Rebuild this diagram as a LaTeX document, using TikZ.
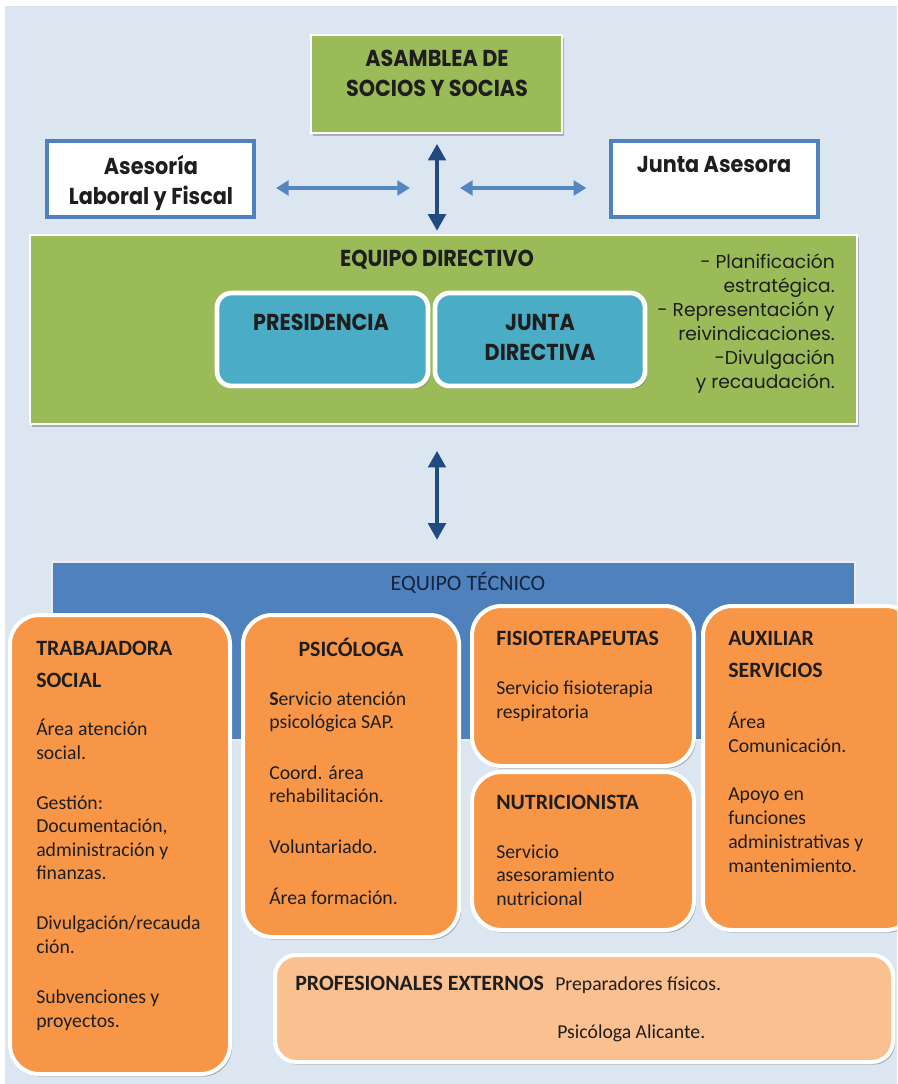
\documentclass[tikz,border=0pt]{standalone}
\usepackage{fontspec}
\setmainfont{Carlito}
\newfontfamily\gothic[FakeStretch=0.9]{Poppins}
\newfontfamily\gothicr{Poppins}
\usetikzlibrary{arrows.meta,shadows,fit}
\definecolor{bgc}{RGB}{220,230,241}
\definecolor{grn}{RGB}{155,187,89}
\definecolor{blu}{RGB}{79,129,189}
\definecolor{tealc}{RGB}{75,172,198}
\definecolor{orng}{RGB}{247,150,70}
\definecolor{lorng}{RGB}{250,192,144}
\definecolor{harc}{RGB}{84,134,194}
\definecolor{varc}{RGB}{35,74,128}
\definecolor{txtc}{RGB}{30,30,30}
\definecolor{navy}{RGB}{22,36,62}
\begin{document}
\begin{tikzpicture}[x=0.75pt,y=-0.75pt,
  shad/.style={drop shadow={shadow xshift=1.5pt,shadow yshift=-2pt,opacity=0.35,fill=black!70}},
  greenbox/.style={shad,inner sep=0pt,fill=grn,draw=white,line width=2.2pt},
  whitebox/.style={inner sep=0pt,fill=white,draw=blu,line width=3pt},
  tealbox/.style={shad,inner sep=0pt,fill=tealc,draw=white,line width=3.5pt,rounded corners=11pt},
  orbox/.style={shad,inner sep=0pt,fill=orng,draw=white,line width=3pt,rounded corners=22pt},
  lorbox/.style={shad,inner sep=0pt,fill=lorng,draw=white,line width=3pt,rounded corners=16pt},
  techbox/.style={inner sep=0pt,fill=blu,draw=white!85!gray,line width=1.2pt},
  hdr/.style={inner sep=0pt,text=txtc,align=center,font=\gothic\bfseries\fontsize{17.3}{22.5}\selectfont},
  lst/.style={inner sep=0pt,text=txtc,align=right,font=\gothicr\fontsize{14}{18}\selectfont},
  ttl/.style={inner sep=0pt,text=txtc,align=left,font=\bfseries\fontsize{16.4}{23.5}\selectfont},
  bdy/.style={inner sep=0pt,text=txtc,align=left,font=\fontsize{14.8}{17.6}\selectfont},
  harrow/.style={harc,line width=3pt,{Triangle[width=11pt,length=9.5pt]}-{Triangle[width=11pt,length=9.5pt]}},
  varrow/.style={varc,line width=3.6pt,{Triangle[width=13pt,length=12.5pt]}-{Triangle[width=13pt,length=12.5pt]}}
]
\useasboundingbox (0,0) rectangle (897,1084);
\clip (0,0) rectangle (897,1084);
\fill[white] (0,0) rectangle (897,1084);
\fill[bgc] (5,6) rectangle (897,1084);

% ---------- top part ----------
\node[greenbox,fit={(311,35)(562,133)}] (asamblea) {};
\node[hdr,anchor=base] (asamblea-t) at (437,97) {ASAMBLEA DE\\SOCIOS Y SOCIAS};

\node[whitebox,fit={(47,141)(254,217)}] (asesoria) {};
\node[hdr,anchor=base] (asesoria-t) at (151,205) {Asesoría\\Laboral y Fiscal};

\node[whitebox,fit={(611,141)(818,217)}] (jasesora) {};
\node[hdr,anchor=base] (jasesora-t) at (714,173) {Junta Asesora};

\node[greenbox,fit={(30,235)(857,424)}] (directivo) {};
\node[hdr,anchor=base] (directivo-t) at (437,267) {EQUIPO DIRECTIVO};

\node[tealbox,fit={(217,293)(428,386)}] (presidencia) {};
\node[hdr,anchor=base] (presidencia-t) at (321,330) {PRESIDENCIA};

\node[tealbox,fit={(435,293)(645,386)}] (jdirectiva) {};
\node[hdr,anchor=base] (jdirectiva-t) at (540,360) {JUNTA\\DIRECTIVA};

\node[lst,anchor=base east] (funciones) at (835,388)
  {- Planificación\\estratégica.\\- Representación y\\reivindicaciones.\\-Divulgación\\y recaudación.};

% arrows top
\coordinate (hl) at (410,188);
\coordinate (hr) at (460,188);
\draw[harrow,shorten <=15pt] (asesoria.east |- hl) -- (hl);
\draw[harrow,shorten >=17pt] (hr) -- (jasesora.west |- hr);
\path (asamblea.south -| hl) ++(27,0) coordinate (va);
\draw[varrow,shorten <=7pt,shorten >=2pt] (va) -- (va |- directivo.north);

% ---------- equipo tecnico ----------
\node[techbox,fit={(52,562)(855,740)}] (tecnico) {};
\node[inner sep=0pt,text=navy,font=\fontsize{16.5}{20}\selectfont,anchor=base] (tecnico-t) at (468,590) {EQUIPO TÉCNICO};

\draw[varrow,shorten <=19pt,shorten >=16pt] (va |- directivo.south) -- (va |- tecnico.north);

\node[orbox,fit={(10,615)(230,1074)}] (trab) {};
\node[ttl,anchor=base west] (trab-t) at (36,687) {TRABAJADORA\\SOCIAL};
\node[bdy,anchor=base west] (trab-b) at (36,1027)
  {Área atención\\social.\\[20pt]Gestión:\\Documentación,\\administración y\\finanzas.\\[20pt]Divulgación/recauda\\ción.\\[20pt]Subvenciones y\\proyectos.};

\node[orbox,fit={(243,615)(459,937)}] (psico) {};
\node[ttl,anchor=base] (psico-t) at (351,656) {PSICÓLOGA};
\node[bdy,anchor=base west] (psico-b) at (269,904)
  {\textbf{S}ervicio atención\\psicológica SAP.\\[20.4pt]Coord. área\\rehabilitación.\\[20.4pt]Voluntariado.\\[20.4pt]Área formación.};

\node[orbox,fit={(472,606)(694,766)}] (fisio) {};
\node[ttl,anchor=base west] (fisio-t) at (496,645) {FISIOTERAPEUTAS};
\node[bdy,anchor=base west] (fisio-b) at (496,718) {Servicio fisioterapia\\respiratoria};

\node[orbox,fit={(472,772)(694,930)}] (nutri) {};
\node[ttl,anchor=base west] (nutri-t) at (496,809) {NUTRICIONISTA};
\node[bdy,anchor=base west] (nutri-b) at (496,905) {Servicio\\asesoramiento\\nutricional};

\node[orbox,fit={(703,606)(915,930)}] (aux) {};
\node[ttl,anchor=base west] (aux-t) at (728,677) {AUXILIAR\\SERVICIOS};
\node[bdy,anchor=base west,font=\fontsize{14.8}{18}\selectfont] (aux-b) at (728,872)
  {Área\\Comunicación.\\[18pt]Apoyo en\\funciones\\administrativas y\\mantenimiento.};

\node[lorbox,fit={(275,955)(893,1062)}] (prof) {};
\node[ttl,anchor=base west] (prof-t) at (295,990) {PROFESIONALES EXTERNOS};
\node[bdy,anchor=base west] (prof-b1) at (555,990) {Preparadores físicos.};
\node[bdy,anchor=base west] (prof-b2) at (557,1038) {Psicóloga Alicante.};
\end{tikzpicture}
\end{document}
